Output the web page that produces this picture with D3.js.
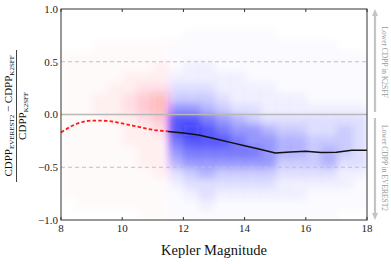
<!DOCTYPE html>
<html><head><meta charset="utf-8">
<script src="https://cdn.jsdelivr.net/npm/d3@7"></script>
<style>body{margin:0;background:#fff}svg{display:block}</style>
</head><body>
<script>
const xTicks = [8, 10, 12, 14, 16, 18];
const yTicks = [1.0, 0.5, 0.0, -0.5, -1.0];
// density grid: column start magnitudes (width 0.5), rows top (0.9..1.0) to bottom (-1.0..-0.9)
const magBins = [8.0,8.5,9.0,9.5,10.0,10.5,11.0,11.5,12.0,12.5,13.0,13.5,14.0,14.5,15.0,15.5,16.0,16.5,17.0,17.5];
const yBins = [0.9,0.8,0.7,0.6,0.5,0.4,0.3,0.2,0.1,0.0,-0.1,-0.2,-0.3,-0.4,-0.5,-0.6,-0.7,-0.8,-0.9,-1.0];
const density = [
 [0,0,0,0,1,1,1,1,1,1,1,1,1,1,1,1,1,1,0,0],
 [0,0,0,0,1,1,1,1,1,1,1,1,1,1,1,1,1,1,1,0],
 [0,0,0,1,1,1,1,1,2,2,1,1,1,1,1,1,1,1,1,0],
 [0,0,0,1,1,1,1,2,2,2,2,1,1,1,1,1,1,1,1,0],
 [0,0,0,1,1,1,2,2,3,3,2,2,2,1,1,1,1,1,1,0],
 [0,0,0,1,1,1,2,3,4,4,3,2,2,2,2,1,1,1,1,1],
 [0,0,0,1,1,2,2,3,5,5,4,3,2,2,2,2,1,1,1,1],
 [0,0,0,1,1,1,2,3,4,6,8,8,7,6,5,3,2,1,1,1],
 [0,0,1,1,1,2,2,3,4,6,8,9,8,7,6,4,3,2,1,1],
 [0,0,1,1,1,2,2,3,4,5,7,8,8,7,6,5,3,3,2,1],
 [0,0,1,1,1,1,2,2,3,4,6,7,8,7,6,4,3,2,1,1],
 [0,0,1,1,1,1,2,2,2,3,5,6,7,7,6,4,3,2,1,1],
 [0,0,1,1,1,1,1,2,2,3,4,6,6,7,6,4,3,2,1,1],
 [0,0,1,1,1,1,1,2,2,2,3,5,6,6,6,4,3,2,1,1],
 [0,0,0,1,1,1,1,1,2,2,3,4,5,5,4,3,2,2,1,1],
 [0,0,0,1,1,1,1,1,2,2,3,4,5,5,4,3,2,2,1,1],
 [0,0,0,1,1,1,1,1,1,2,3,3,4,4,4,3,2,1,1,1],
 [0,0,0,1,1,1,1,1,1,2,3,3,4,5,5,3,2,1,1,1],
 [0,0,0,0,1,1,1,1,1,2,3,4,4,4,3,2,2,1,1,0],
 [0,0,0,0,1,1,1,1,1,2,3,3,3,3,3,2,1,1,1,0]
];
const redMag = [8.0, 8.5, 9.0, 9.5, 10.0, 10.5, 11.0, 11.5];
const redVal = [-0.17, -0.09, -0.058, -0.06, -0.085, -0.115, -0.145, -0.16];
const blackMag = [11.5, 12.0, 12.5, 13.0, 13.5, 14.0, 14.5, 15.0, 15.5, 16.0, 16.5, 17.0, 17.5, 18.0];
const blackVal = [-0.16, -0.175, -0.195, -0.228, -0.262, -0.297, -0.33, -0.365, -0.355, -0.348, -0.36, -0.358, -0.34, -0.338];

const W = 391, H = 264;
const m = {l: 61, r: 367, t: 9, b: 220};
const x = d3.scaleLinear().domain([8, 18]).range([m.l, m.r]);
const y = d3.scaleLinear().domain([-1, 1]).range([m.b, m.t]);
const op = d3.scalePow().exponent(1.7).domain([0, 9]).range([0, 0.78]);
const serif = "'Liberation Serif','DejaVu Serif',serif";

const svg = d3.select("body").append("svg").attr("width", W).attr("height", H);
const defs = svg.append("defs");
defs.append("clipPath").attr("id", "clip").append("rect")
  .attr("x", m.l).attr("y", m.t).attr("width", m.r - m.l).attr("height", m.b - m.t);
const f = defs.append("filter").attr("id", "blur").attr("x", "-10%").attr("y", "-10%").attr("width", "120%").attr("height", "120%");
f.append("feGaussianBlur").attr("stdDeviation", 3.5);

// density cloud
const cloud = svg.append("g").attr("clip-path", "url(#clip)").append("g").attr("filter", "url(#blur)");
magBins.forEach((mg, i) => {
  yBins.forEach((yb, j) => {
    const v = density[i][j];
    if (!v) return;
    cloud.append("rect")
      .attr("x", x(mg)).attr("y", y(yb + 0.1))
      .attr("width", x(mg + 0.5) - x(mg) + 0.5)
      .attr("height", y(yb) - y(yb + 0.1) + 0.5)
      .attr("fill", mg < 11.5 ? "rgb(255,20,40)" : "rgb(10,10,250)")
      .attr("fill-opacity", op(v));
  });
});

// reference lines
svg.append("line").attr("x1", m.l).attr("x2", m.r).attr("y1", y(0)).attr("y2", y(0))
  .attr("stroke", "#b8b8b8").attr("stroke-width", 1.6);
[0.5, -0.5].forEach(v => svg.append("line").attr("x1", m.l).attr("x2", m.r).attr("y1", y(v)).attr("y2", y(v))
  .attr("stroke", "#c0c0c0").attr("stroke-width", 1).attr("stroke-dasharray", "4,3"));

// curves
const redData = redMag.map((d, i) => [d, redVal[i]]);
const blackData = blackMag.map((d, i) => [d, blackVal[i]]);
svg.append("path").datum(redData)
  .attr("d", d3.line().x(d => x(d[0])).y(d => y(d[1])).curve(d3.curveMonotoneX))
  .attr("fill", "none").attr("stroke", "#ff1a1a").attr("stroke-width", 1.8).attr("stroke-dasharray", "3.5,2.2");
svg.append("path").datum(blackData)
  .attr("d", d3.line().x(d => x(d[0])).y(d => y(d[1])))
  .attr("fill", "none").attr("stroke", "#111").attr("stroke-width", 1.5);

// frame
svg.append("rect").attr("x", m.l).attr("y", m.t).attr("width", m.r - m.l).attr("height", m.b - m.t)
  .attr("fill", "none").attr("stroke", "#333").attr("stroke-width", 1);

// x ticks (inward top and bottom)
xTicks.forEach(t => {
  svg.append("line").attr("x1", x(t)).attr("x2", x(t)).attr("y1", m.b).attr("y2", m.b - 3).attr("stroke", "#333");
  svg.append("line").attr("x1", x(t)).attr("x2", x(t)).attr("y1", m.t).attr("y2", m.t + 3).attr("stroke", "#333");
  svg.append("text").attr("x", x(t)).attr("y", 232).attr("text-anchor", "middle")
    .attr("font-family", serif).attr("font-size", 11).attr("fill", "#222").text(t);
});
yTicks.forEach(t => {
  svg.append("text").attr("x", 58).attr("y", y(t)).attr("dy", "0.35em").attr("text-anchor", "end")
    .attr("font-family", serif).attr("font-size", 11).attr("fill", "#222")
    .text(d3.format(".1f")(t).replace("-", "\u2212"));
});

// x label
svg.append("text").attr("x", (m.l + m.r) / 2).attr("y", 255).attr("text-anchor", "middle")
  .attr("font-family", serif).attr("font-size", 14.5).attr("fill", "#111").text("Kepler Magnitude");

// y label fraction
const yl = svg.append("g").attr("transform", "translate(0,116) rotate(-90)");
const num = yl.append("text").attr("x", 0).attr("y", 12).attr("text-anchor", "middle")
  .attr("font-family", serif).attr("font-size", 11).attr("fill", "#111");
num.append("tspan").text("CDPP");
num.append("tspan").attr("font-size", 7).attr("dy", 2).text("EVEREST2");
num.append("tspan").attr("dy", -2).text(" \u2212 CDPP");
num.append("tspan").attr("font-size", 7).attr("dy", 2).text("K2SFF");
yl.append("line").attr("x1", -66).attr("x2", 66).attr("y1", 16.5).attr("y2", 16.5).attr("stroke", "#111").attr("stroke-width", 0.8);
const den = yl.append("text").attr("x", 0).attr("y", 25.5).attr("text-anchor", "middle")
  .attr("font-family", serif).attr("font-size", 11).attr("fill", "#111");
den.append("tspan").text("CDPP");
den.append("tspan").attr("font-size", 7).attr("dy", 2).text("K2SFF");

// right annotations
const ac = "#c4c4c4";
const ax = 375;
svg.append("line").attr("x1", ax).attr("x2", ax).attr("y1", 112).attr("y2", 15).attr("stroke", ac).attr("stroke-width", 2.2);
svg.append("path").attr("d", `M${ax - 3},${16} L${ax},${9} L${ax + 3},${16} Z`).attr("fill", ac);
svg.append("line").attr("x1", ax).attr("x2", ax).attr("y1", 118).attr("y2", 214).attr("stroke", ac).attr("stroke-width", 2.2);
svg.append("path").attr("d", `M${ax - 3},${213} L${ax},${220} L${ax + 3},${213} Z`).attr("fill", ac);
[["Lower CDPP in K2SFF", 62], ["Lower CDPP in EVEREST2", 168]].forEach(([s, cy]) => {
  svg.append("text").attr("transform", `translate(381.5,${cy}) rotate(90)`).attr("text-anchor", "middle")
    .attr("font-family", serif).attr("font-size", 7.5).attr("fill", "#999").text(s);
});
</script>
</body></html>
